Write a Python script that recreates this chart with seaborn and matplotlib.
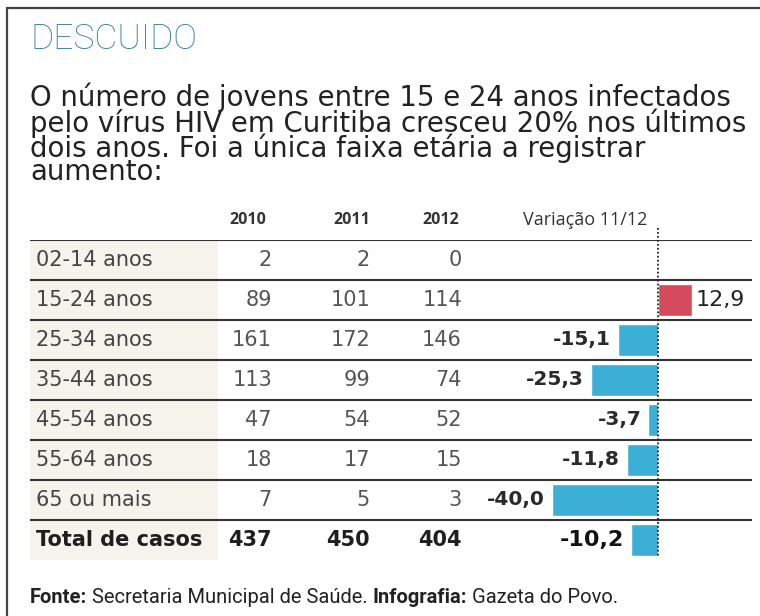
import matplotlib
matplotlib.use("Agg")
import matplotlib.pyplot as plt
import matplotlib.transforms as mtransforms
from matplotlib.lines import Line2D
from matplotlib.patches import Rectangle
import pandas as pd
import seaborn as sns

# dados da tabela
faixas = ["02-14 anos", "15-24 anos", "25-34 anos", "35-44 anos",
          "45-54 anos", "55-64 anos", "65 ou mais", "Total de casos"]
casos_2010 = [2, 89, 161, 113, 47, 18, 7, 437]
casos_2011 = [2, 101, 172, 99, 54, 17, 5, 450]
casos_2012 = [0, 114, 146, 74, 52, 15, 3, 404]
variacao = [None, 12.9, -15.1, -25.3, -3.7, -11.8, -40.0, -10.2]
anos = ["2010", "2011", "2012"]

titulo = "DESCUIDO"
subtitulo = ["O número de jovens entre 15 e 24 anos infectados",
             "pelo vírus HIV em Curitiba cresceu 20% nos últimos",
             "dois anos. Foi a única faixa etária a registrar",
             "aumento:"]

AZUL = "#3bafd6"
VERMELHO = "#d64a5e"
ROBOTO = ["Roboto", "DejaVu Sans"]
OPEN = ["Open Sans", "DejaVu Sans"]
DEJAVU = ["DejaVu Sans"]

sns.set_theme(style="white")
plt.rcParams["font.family"] = DEJAVU

W, H = 760, 616
fig = plt.figure(figsize=(W / 100, H / 100), dpi=100)
fig.patch.set_facecolor("white")

# eixo da tabela: x de 30 a 752 px, y de 240 a 560 px
ax = fig.add_axes([30 / W, (H - 560) / H, 722 / W, 320 / H])

df = pd.DataFrame({"faixa": faixas, "variacao": variacao})
df["sinal"] = ["pos" if (v is not None and v > 0) else "neg" for v in variacao]
sns.barplot(data=df.dropna(), x="variacao", y="faixa", hue="sinal",
            order=faixas, palette={"pos": VERMELHO, "neg": AZUL},
            width=0.8, legend=False, saturation=1, ax=ax)
ax.set_xlim(-236.1, 35.3)
ax.set_ylim(len(faixas) - 0.5, -0.5)
ax.set_axis_off()

# coluna das faixas com fundo bege
blend = mtransforms.blended_transform_factory(fig.transFigure, ax.transData)
ax.add_patch(Rectangle((30 / W, -0.5), (218 - 30) / W, len(faixas),
                       transform=blend, facecolor="#f6f3ec", edgecolor="none",
                       zorder=0, clip_on=False))

# linhas horizontais
for i in range(len(faixas)):
    ax.axhline(i - 0.5, color="#333333", lw=1.5, zorder=3)

# linha do zero pontilhada
ax.plot([0, 0], [-0.8, 7.4], color="#222222", lw=1.3,
        ls=(0, (1, 1.2)), clip_on=False, zorder=4)

# cabeçalho
for ano, xc in zip(anos, [248, 352, 441]):
    ax.text(xc / W, -1.0, ano, transform=blend, ha="center", va="center",
            family=OPEN, fontsize=11.5, fontweight="bold", color="#333333")
ax.text(585 / W, -1.0, "Variação 11/12", transform=blend, ha="center",
        va="center", family=OPEN, fontsize=13, color="#333333")

# texto das linhas
for i, faixa in enumerate(faixas):
    total = faixa.startswith("Total")
    peso = "bold" if total else "normal"
    ax.text(36 / W, i, faixa, transform=blend, ha="left", va="center",
            family=DEJAVU, fontsize=15, fontweight=peso,
            color="#1e1e1e" if total else "#444444")
    for col, xr in zip([casos_2010, casos_2011, casos_2012], [272, 370, 462]):
        ax.text(xr / W, i, str(col[i]), transform=blend, ha="right",
                va="center", family=DEJAVU, fontsize=15, fontweight=peso,
                color="#1e1e1e" if total else "#555555")
    v = variacao[i]
    if v is None:
        continue
    rot = f"{v:.1f}".replace(".", ",")
    if v < 0:
        ax.annotate(rot, (v, i), xytext=(-5, 0), textcoords="offset points",
                    ha="right", va="center", family=DEJAVU,
                    fontsize=16 if total else 14.5, fontweight="bold",
                    color="#111111" if total else "#2a2a2a")
    else:
        ax.annotate(rot, (v, i), xytext=(2, 0), textcoords="offset points",
                    ha="left", va="center", family=DEJAVU, fontsize=16,
                    color="#222222")

# título e subtítulo
fig.text(30 / W, 1 - 39 / H, titulo, family=ROBOTO, fontsize=25.5,
         fontweight="light", color="#3a82a0", ha="left", va="center")
fig.text(30 / W, 1 - 83 / H, "\n".join(subtitulo), family=DEJAVU,
         fontsize=19.9, linespacing=0.81, color="#222222", ha="left", va="top")

# rodapé
partes = [("Fonte:", "bold"), (" Secretaria Municipal de Saúde. ", "normal"),
          ("Infografia:", "bold"), (" Gazeta do Povo.", "normal")]
anterior = fig.text(30 / W, 1 - 603 / H, partes[0][0], family=ROBOTO,
                    fontsize=14.5, fontweight=partes[0][1], color="#222222",
                    ha="left", va="baseline")
for txt, peso in partes[1:]:
    anterior = ax.annotate(txt, xy=(1, 0), xycoords=anterior, xytext=(0, 0),
                           textcoords="offset points", ha="left", va="bottom",
                           family=ROBOTO, fontsize=14.5, fontweight=peso,
                           color="#222222", annotation_clip=False)

# moldura
fig.add_artist(Line2D([7 / W, 1], [1 - 8 / H, 1 - 8 / H], color="#444444", lw=1.6))
fig.add_artist(Line2D([7 / W, 7 / W], [0, 1 - 8 / H], color="#444444", lw=1.6))

fig.savefig("out.png", dpi=100)
